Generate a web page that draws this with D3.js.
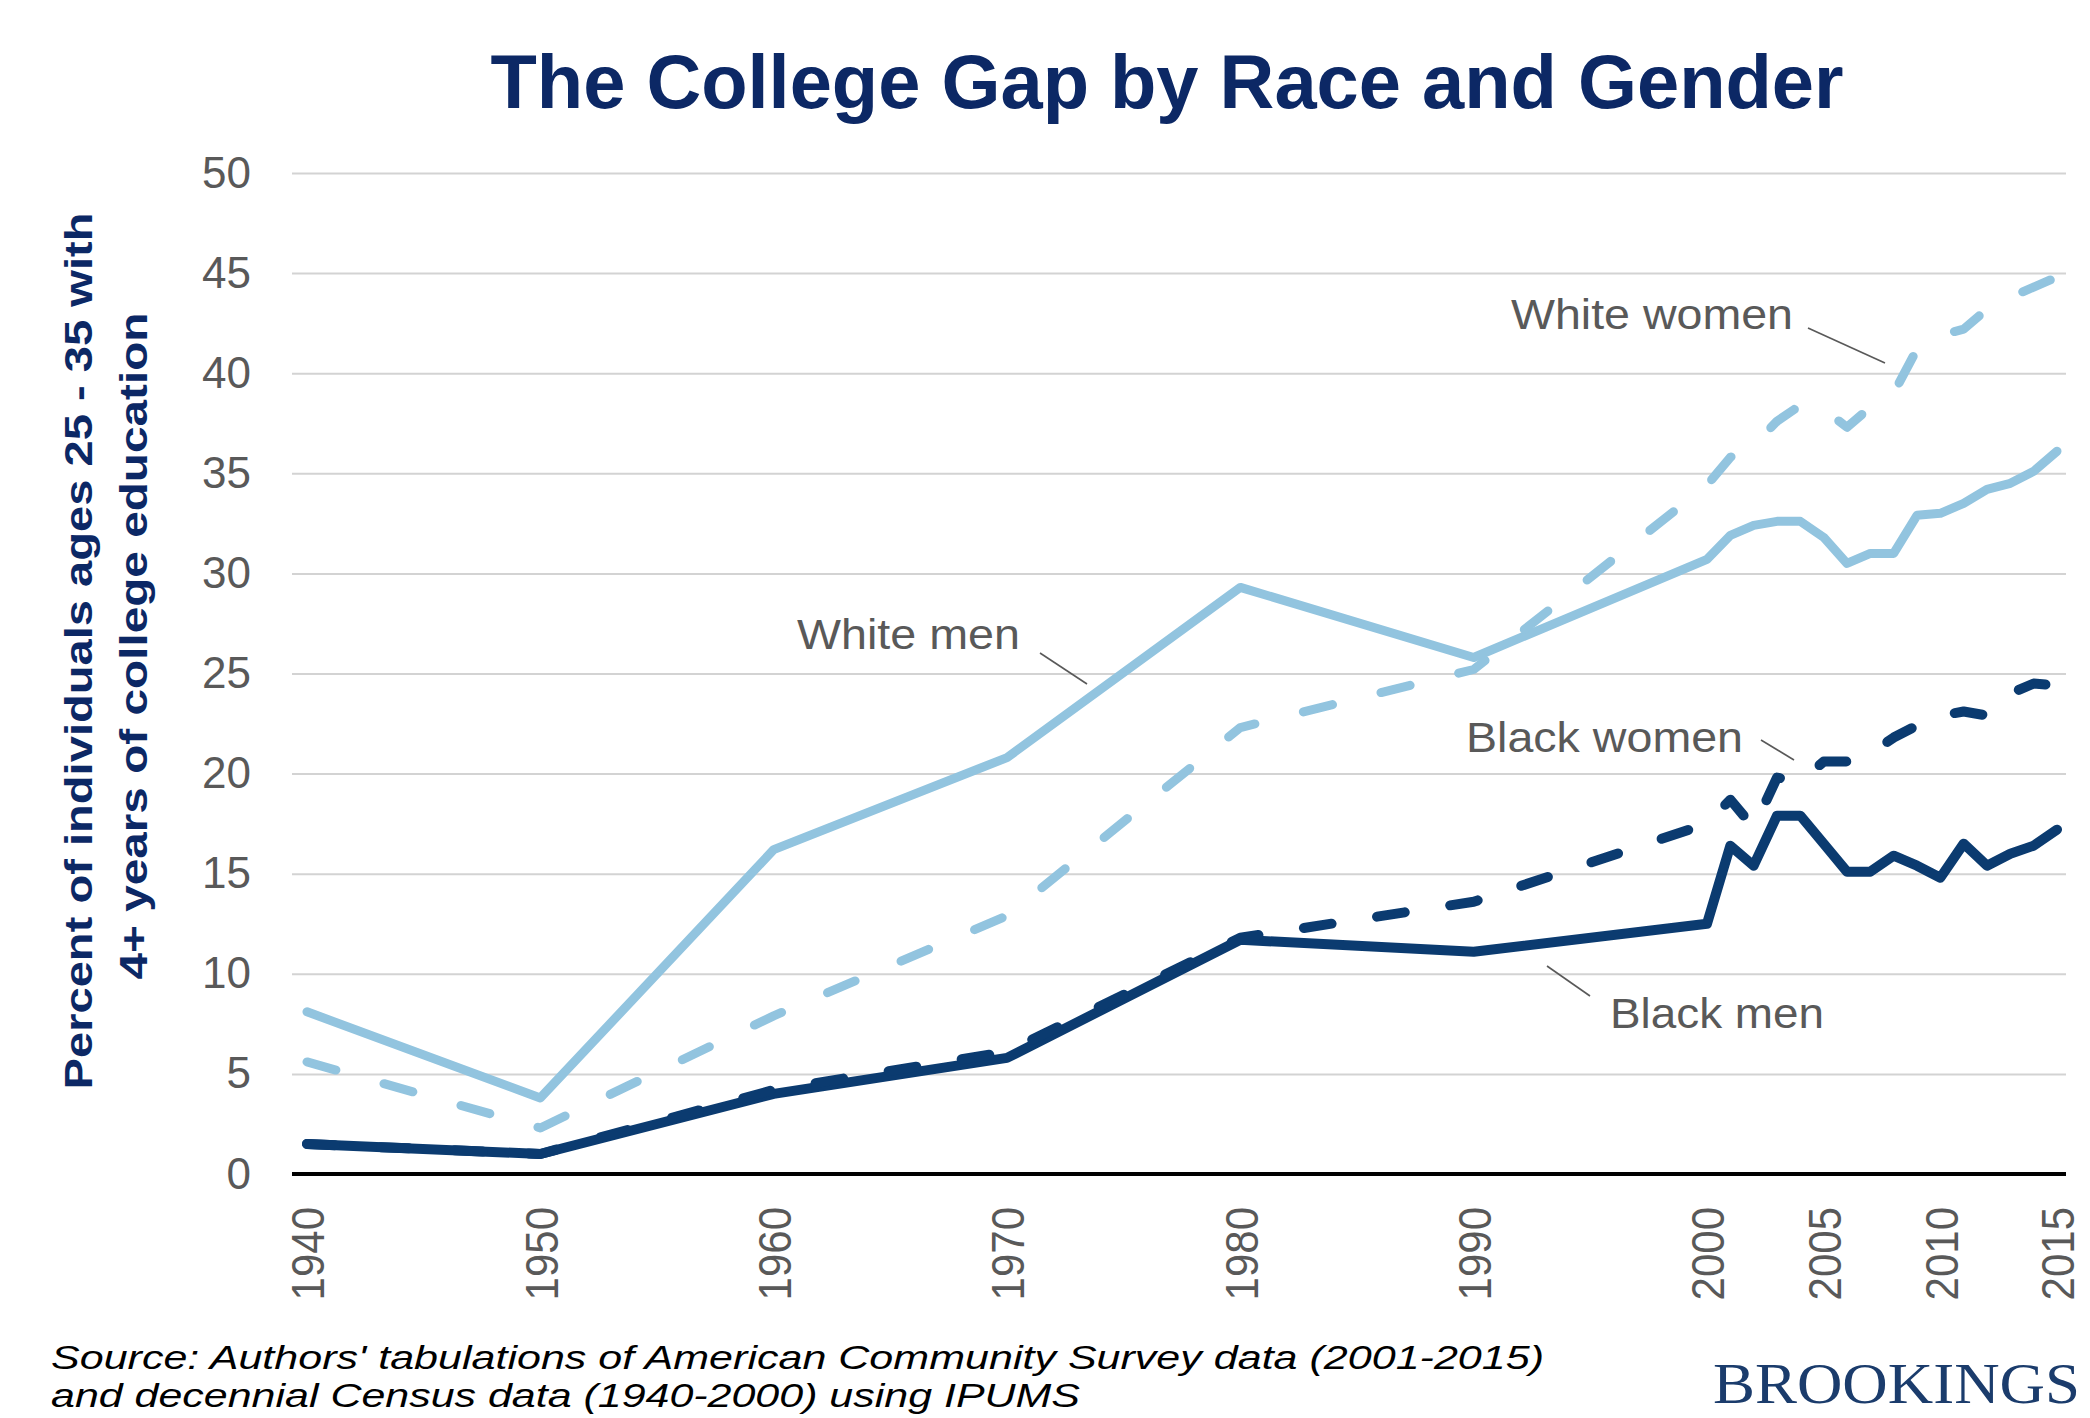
<!DOCTYPE html>
<html><head><meta charset="utf-8">
<script src="https://cdn.jsdelivr.net/npm/d3@7"></script>
<style>html,body{margin:0;padding:0;background:#fff;} svg{display:block;}</style>
</head><body>
<svg id="chart" width="2090" height="1418"></svg>
<script>
// ---- data ----
const years = [1940,1950,1960,1970,1980,1990,2000,2001,2002,2003,2004,2005,2006,2007,2008,2009,2010,2011,2012,2013,2014,2015];
const whiteMen   = [8.1,3.8,16.2,20.8,29.3,25.8,30.7,31.9,32.4,32.6,32.6,31.8,30.5,31.0,31.0,32.9,33.0,33.5,34.2,34.5,35.1,36.1];
const whiteWomen = [5.6,2.3,7.9,12.9,22.3,25.2,34.4,35.8,36.4,37.6,38.4,38.2,37.3,38.3,39.0,41.2,41.9,42.2,43.2,43.8,44.3,44.8];
const blackMen   = [1.5,1.0,4.0,5.8,11.7,11.1,12.5,16.4,15.4,17.9,17.9,16.5,15.1,15.1,15.9,15.4,14.8,16.5,15.4,16.0,16.4,17.2];
const blackWomen = [1.5,1.0,4.2,6.1,11.8,13.6,17.5,18.7,17.3,19.8,19.6,20.6,20.6,21.0,21.8,22.4,22.9,23.1,22.9,24.0,24.5,24.4];
const seriesNames = ["White men","White women","Black men","Black women"];
const yTicks = [0,5,10,15,20,25,30,35,40,45,50];
const xTicks = [1940,1950,1960,1970,1980,1990,2000,2005,2010,2015];
const titleText = "The College Gap by Race and Gender";
const yTitleLines = ["Percent of individuals ages 25 - 35 with","4+ years of college education"];
const sourceLines = ["Source: Authors' tabulations of American Community Survey data (2001-2015)","and decennial Census data (1940-2000) using IPUMS"];

// ---- layout / style ----
const FONT = "'Liberation Sans', Arial, sans-serif";
const LIGHT = "#92C4DF", DARK = "#0B3B70", NAVY = "#0C2865", GRAY = "#595959";
const gridLeft = 292, gridRight = 2066;
const svg = d3.select("#chart");
const x = d3.scaleLinear().domain([1940,2015]).range([307,2057]);
const y = d3.scaleLinear().domain([0,50]).range([1174,173]);

// y axis + gridlines
const gy = svg.append("g").attr("transform",`translate(${gridLeft},0)`)
  .call(d3.axisLeft(y).tickValues(yTicks).tickSize(-(gridRight-gridLeft)).tickPadding(41));
gy.select(".domain").remove();
gy.selectAll(".tick line").attr("stroke","#d3d3d3").attr("stroke-width",2);
gy.selectAll(".tick text").attr("fill",GRAY).style("font-family",FONT).style("font-size","44px");

// x axis
const gx = svg.append("g").attr("transform",`translate(0,${y(0)})`)
  .call(d3.axisBottom(x).tickValues(xTicks).tickSize(0).tickFormat(d3.format("d")));
gx.select(".domain").attr("d",`M${gridLeft},0H${gridRight}`).attr("stroke","#000").attr("stroke-width",4);
gx.selectAll(".tick text")
  .attr("transform","scale(1.12,1) rotate(-90)")
  .attr("x",-33).attr("y",0).attr("dy","0.36em")
  .style("text-anchor","end").attr("fill",GRAY)
  .style("font-family",FONT).style("font-size","42px");
gy.selectAll(".tick").filter(d=>d===0).select("line").remove();

// lines
const styles = {
  "White men":   {values: whiteMen,   color: LIGHT, width: 9,  dash: null},
  "White women": {values: whiteWomen, color: LIGHT, width: 9,  dash: "30,50"},
  "Black men":   {values: blackMen,   color: DARK,  width: 10, dash: null},
  "Black women": {values: blackWomen, color: DARK,  width: 10, dash: "28,46"}
};
const line = d3.line().x((d,i)=>x(years[i])).y(d=>y(d));
seriesNames.forEach(n=>{
  const s = styles[n];
  svg.append("path").datum(s.values)
    .attr("d",line).attr("fill","none")
    .attr("stroke",s.color).attr("stroke-width",s.width)
    .attr("stroke-linecap","round").attr("stroke-linejoin","round")
    .attr("stroke-dasharray",s.dash);
});

// annotations (label layout)
const labelLayout = [
  {t:"White women", x:1511, y:329, len:282, l:[1808,328,1885,363]},
  {t:"White men",   x:797,  y:649, len:223, l:[1040,653,1087,684]},
  {t:"Black women", x:1466, y:752, len:277, l:[1761,740,1794,760]},
  {t:"Black men",   x:1610, y:1028,len:214, l:[1547,966,1590,996]}
];
labelLayout.forEach(a=>{
  svg.append("text").attr("x",a.x).attr("y",a.y).text(a.t)
    .attr("fill",GRAY).style("font-family",FONT).style("font-size","43px")
    .attr("textLength",a.len).attr("lengthAdjust","spacingAndGlyphs");
  svg.append("line").attr("x1",a.l[0]).attr("y1",a.l[1]).attr("x2",a.l[2]).attr("y2",a.l[3])
    .attr("stroke",GRAY).attr("stroke-width",1.6);
});

// title
svg.append("text").attr("x",1167).attr("y",108).attr("text-anchor","middle").text(titleText)
  .attr("fill",NAVY).style("font-family",FONT).style("font-weight","bold").style("font-size","76px")
  .attr("textLength",1353).attr("lengthAdjust","spacingAndGlyphs");

// y title
[[92,651,877],[147,646,667]].forEach((p,i)=>{
  svg.append("text").attr("transform",`translate(${p[0]},${p[1]}) scale(1.12,1) rotate(-90)`)
    .attr("text-anchor","middle").text(yTitleLines[i])
    .attr("fill",NAVY).style("font-family",FONT).style("font-weight","bold").style("font-size","34px")
    .attr("textLength",p[2]).attr("lengthAdjust","spacingAndGlyphs");
});

// source
[[1369,1493],[1407,1029]].forEach((p,i)=>{
  svg.append("text").attr("x",51).attr("y",p[0]).text(sourceLines[i])
    .attr("fill","#000").style("font-family",FONT).style("font-style","italic").style("font-size","33px")
    .attr("textLength",p[1]).attr("lengthAdjust","spacingAndGlyphs");
});

// logo
svg.append("text").attr("x",1713).attr("y",1403).text("BROOKINGS")
  .attr("fill","#1B3C6C").style("font-family","'Liberation Serif','Times New Roman',serif").style("font-size","56px")
  .attr("textLength",367).attr("lengthAdjust","spacingAndGlyphs");
</script>
</body></html>
